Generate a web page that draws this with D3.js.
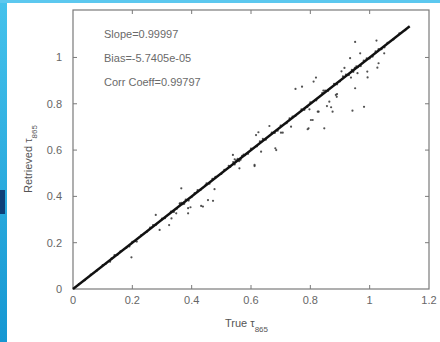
<!DOCTYPE html>
<html>
<head>
<meta charset="utf-8">
<script src="https://cdn.jsdelivr.net/npm/d3@7"></script>
<style>
  body { margin: 0; background: #fff; }
  svg { display: block; font-family: "Liberation Sans", Arial, sans-serif; }
</style>
</head>
<body>
<div id="chart"></div>
<script>
// points sitting on / very close to the 1:1 line
const lineTrue = [0.02,0.04,0.06,0.08,0.10,0.11,0.13,0.15,0.16,0.18,0.20,0.21,0.23,0.25,0.26,0.28,0.30,0.31,0.33,0.35,
  0.36,0.37,0.38,0.40,0.41,0.43,0.45,0.46,0.48,0.50,0.51,0.53,0.54,0.55,0.56,0.57,0.58,0.60,0.62,0.63,
  0.65,0.67,0.68,0.70,0.72,0.74,0.75,0.77,0.79,0.80,0.82,0.84,0.86,0.88,0.90,0.92,0.93,0.94,0.95,0.96,
  0.98,1.00,1.02,1.04,1.06,1.08,1.10,1.12,
  0.14,0.19,0.27,0.34,0.365,0.375,0.39,0.42,0.47,0.525,0.545,0.555,0.565,0.59,0.64,0.69,0.73,0.78,0.85,
  0.89,0.91,0.945,0.955,0.97,0.99,1.01,1.03,1.05]
const lineRetr = [0.021,0.038,0.062,0.079,0.103,0.108,0.132,0.148,0.163,0.178,0.204,0.207,0.233,0.248,0.265,0.277,0.304,0.306,0.334,0.347,
  0.368,0.366,0.386,0.397,0.414,0.428,0.456,0.455,0.484,0.497,0.515,0.527,0.548,0.556,0.552,0.575,0.578,0.606,0.616,0.638,
  0.645,0.676,0.674,0.706,0.716,0.745,0.748,0.776,0.786,0.806,0.815,0.846,0.856,0.886,0.897,0.926,0.924,0.946,0.955,0.958,
  0.986,0.996,1.026,1.036,1.063,1.078,1.104,1.118,
  0.146,0.184,0.276,0.333,0.372,0.368,0.382,0.427,0.476,0.532,0.538,0.562,0.558,0.584,0.648,0.684,0.737,0.774,0.857,
  0.884,0.918,0.938,0.962,0.963,0.996,1.004,1.036,1.044]

// points scattered away from the line
const offTrue = [0.951,1.023,0.934,0.968,1.049,1.030,1.026,0.992,0.993,0.959,0.937,0.951,0.819,0.811,0.772,0.750,0.844,0.890,0.889,0.864,
  0.870,0.856,0.875,0.942,0.981,0.825,0.797,0.847,0.794,0.735,0.682,0.662,0.617,0.612,0.802,0.828,0.886,0.701,0.625,0.685,
  0.612,0.561,0.707,0.791,0.808,0.634,0.539,0.365,0.279,0.292,0.324,0.332,0.388,0.396,0.438,0.455,0.472,0.477,0.447,0.360,
  0.348,0.197,0.388,0.432,0.215,0.125,0.545,0.575,0.915,0.905]
const offRetr = [1.067,1.073,0.997,1.018,1.018,0.975,0.956,0.939,0.914,0.932,0.913,0.867,0.913,0.896,0.874,0.864,0.857,0.842,0.830,0.809,
  0.785,0.790,0.766,0.770,0.787,0.766,0.776,0.694,0.694,0.701,0.608,0.704,0.665,0.536,0.730,0.766,0.838,0.675,0.677,0.600,
  0.531,0.521,0.675,0.690,0.730,0.593,0.579,0.435,0.320,0.255,0.276,0.305,0.327,0.353,0.356,0.384,0.381,0.431,0.449,0.370,
  0.327,0.137,0.349,0.359,0.205,0.118,0.560,0.580,0.955,0.940]

const fitRange = [0, 1.135]
const slope = 0.99997
const bias = -5.7405e-05
const statLabels = ["Slope=0.99997", "Bias=-5.7405e-05", "Corr Coeff=0.99797"]
const xTicks = [0, 0.2, 0.4, 0.6, 0.8, 1, 1.2]
const yTicks = [0, 0.2, 0.4, 0.6, 0.8, 1]

const W = 440, H = 342
const M = { TOP: 10, RIGHT: 11, BOTTOM: 53, LEFT: 73 }
const w = W - M.LEFT - M.RIGHT
const h = H - M.TOP - M.BOTTOM

const svg = d3.select("#chart").append("svg")
    .attr("width", W)
    .attr("height", H)

// blue frame strips of the slide
const grad = svg.append("defs").append("linearGradient")
    .attr("id", "side").attr("x1", 0).attr("y1", 0).attr("x2", 0).attr("y2", 1)
grad.append("stop").attr("offset", "0%").attr("stop-color", "#45c2ec")
grad.append("stop").attr("offset", "100%").attr("stop-color", "#1597d2")
svg.append("rect").attr("x", 0).attr("y", 0).attr("width", 7).attr("height", H).attr("fill", "url(#side)")
svg.append("rect").attr("x", 0).attr("y", 190).attr("width", 5).attr("height", 24).attr("fill", "#0d3f78")
svg.append("rect").attr("x", 0).attr("y", 0).attr("width", W).attr("height", 3).attr("fill", "#5cc8ef")

const g = svg.append("g").attr("transform", `translate(${M.LEFT}, ${M.TOP})`)

const x = d3.scaleLinear().domain([0, 1.2]).range([0, w])
const y = d3.scaleLinear().domain([0, 1.205]).range([h, 0])

const axisColor = "#7a7a7a", labelColor = "#666"

// box
g.append("rect")
    .attr("width", w).attr("height", h)
    .attr("fill", "none").attr("stroke", axisColor).attr("stroke-width", 1.2)

// inward ticks on all four sides
const tl = 4
g.selectAll(".xtb").data(xTicks.slice(1, -1)).enter().append("line")
    .attr("x1", d => x(d)).attr("x2", d => x(d)).attr("y1", h).attr("y2", h - tl)
    .attr("stroke", axisColor)
g.selectAll(".xtt").data(xTicks.slice(1, -1)).enter().append("line")
    .attr("x1", d => x(d)).attr("x2", d => x(d)).attr("y1", 0).attr("y2", tl)
    .attr("stroke", axisColor)
g.selectAll(".ytl").data(yTicks.slice(1)).enter().append("line")
    .attr("x1", 0).attr("x2", tl).attr("y1", d => y(d)).attr("y2", d => y(d))
    .attr("stroke", axisColor)
g.selectAll(".ytr").data(yTicks.slice(1)).enter().append("line")
    .attr("x1", w).attr("x2", w - tl).attr("y1", d => y(d)).attr("y2", d => y(d))
    .attr("stroke", axisColor)

// tick labels
g.selectAll(".xl").data(xTicks).enter().append("text")
    .attr("x", d => x(d)).attr("y", h + 15)
    .attr("text-anchor", "middle").attr("font-size", 11).attr("fill", labelColor)
    .text(d => d3.format("~g")(d))
g.selectAll(".yl").data(yTicks).enter().append("text")
    .attr("x", -11).attr("y", d => y(d)).attr("dy", "0.36em")
    .attr("text-anchor", "end").attr("font-size", 11).attr("fill", labelColor)
    .text(d => d3.format("~g")(d))

// scatter
const pts = lineTrue.map((d, i) => [d, lineRetr[i]])
    .concat(offTrue.map((d, i) => [d, offRetr[i]]))
g.selectAll(".pt").data(pts).enter().append("circle")
    .attr("cx", d => x(d[0])).attr("cy", d => y(d[1]))
    .attr("r", 1.1).attr("fill", "#333").attr("opacity", 0.85)

// fit line
g.append("line")
    .attr("x1", x(fitRange[0])).attr("y1", y(slope * fitRange[0] + bias))
    .attr("x2", x(fitRange[1])).attr("y2", y(slope * fitRange[1] + bias))
    .attr("stroke", "#111").attr("stroke-width", 2.4)

// stats text
g.selectAll(".stat").data(statLabels).enter().append("text")
    .attr("x", 31).attr("y", (d, i) => 27.5 + i * 24)
    .attr("font-size", 11).attr("fill", "#6a6a6a")
    .text(d => d)

// axis labels
const xl = svg.append("text")
    .attr("x", 225).attr("y", 327)
    .attr("font-size", 11).attr("fill", "#555")
xl.append("tspan").text("True τ")
xl.append("tspan").attr("font-size", 8).attr("dy", 5).text("865")

const yl = svg.append("text")
    .attr("transform", "translate(32, 193) rotate(-90)")
    .attr("font-size", 11).attr("fill", "#555")
yl.append("tspan").text("Retrieved τ")
yl.append("tspan").attr("font-size", 8).attr("dy", 5).text("865")
</script>
</body>
</html>
